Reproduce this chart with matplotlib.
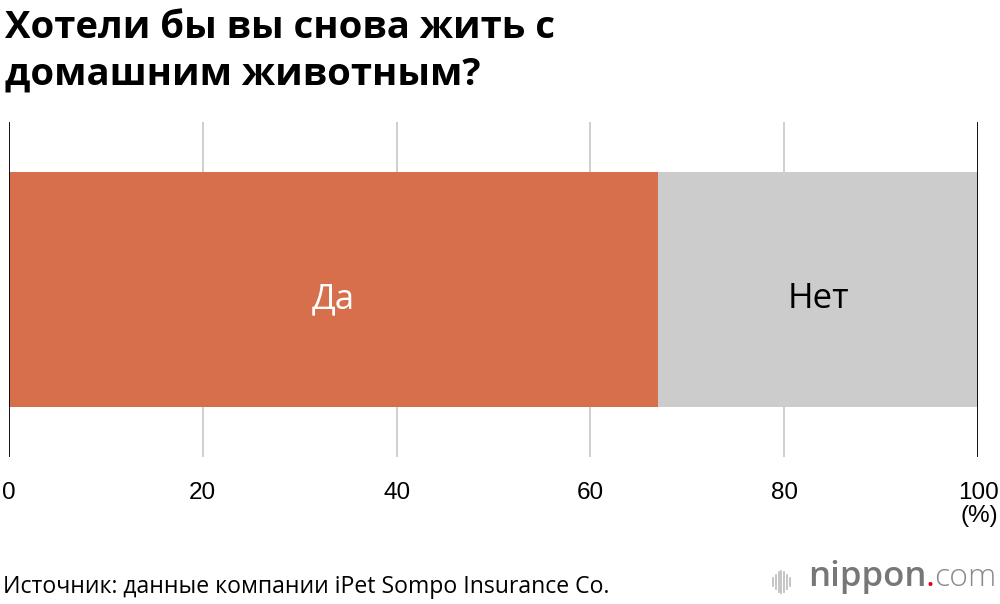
import matplotlib
matplotlib.use("Agg")
import matplotlib.pyplot as plt
from matplotlib.lines import Line2D

# Data
categories = ["Да", "Нет"]
values = [67, 33]
colors = ["#d86f4c", "#cccccc"]
label_colors = ["white", "black"]
xticks = [0, 20, 40, 60, 80, 100]
title_lines = ["Хотели бы вы снова жить с", "домашним животным?"]
source = "Источник: данные компании iPet Sompo Insurance Co."

plt.rcParams['font.family'] = ['Liberation Sans', 'DejaVu Sans']
W, H = 1000, 604

fig = plt.figure(figsize=(10, 6.04), dpi=100)
ax = fig.add_axes([0.009, 1 - 457/H, 0.969, 335/H])

left = 0
for cat, v, c, lc in zip(categories, values, colors, label_colors):
    ax.barh(0.5, v, left=left, height=0.701, color=c, zorder=2)
    ax.text(left + v/2, (457 - 308)/335, cat, ha='center', va='baseline', fontsize=25,
            color=lc, zorder=3, family=['Open Sans', 'DejaVu Sans'])
    left += v

ax.set_xlim(0, 100)
ax.set_ylim(0, 1)
for x in xticks:
    if x in (0, 100):
        ax.axvline(x, color='black', lw=1.3, zorder=4)
    else:
        ax.axvline(x, color='#cccccc', lw=1.3, zorder=1)

for s in ax.spines.values():
    s.set_visible(False)
ax.set_yticks([])
ax.set_xticks(xticks)
ax.set_xticklabels([str(t) for t in xticks])
ax.tick_params(axis='x', length=0, pad=18, labelsize=17.5)
fig.text(998/W, 1 - 516/H, "(%)", ha='right', va='center', fontsize=17.5)

fig.text(0.005, 1 - 38/H, title_lines[0], ha='left', va='baseline', fontsize=27.5,
         fontweight='bold', family=['Open Sans', 'DejaVu Sans'])
fig.text(0.005, 1 - 85/H, title_lines[1], ha='left', va='baseline', fontsize=27.5,
         fontweight='bold', family=['Open Sans', 'DejaVu Sans'])
fig.text(0.003, 1 - 593/H, source, ha='left', va='baseline', fontsize=16.6,
         family=['Open Sans', 'DejaVu Sans'])

# logo
y0 = 1 - 582/H
for i, h in enumerate([0.014, 0.024, 0.034, 0.038, 0.034, 0.024, 0.014]):
    xx = (773 + i*2.8)/W
    fig.add_artist(Line2D([xx, xx], [y0 - h/2, y0 + h/2], color='#bbbbbb', lw=1.2,
                          transform=fig.transFigure))
fig.text(808/W, 1 - 586/H, "nippon", ha='left', va='baseline', fontsize=25,
         color='#777777', fontweight='semibold', family=['Open Sans'])
fig.text(996/W, 1 - 586/H, "com", ha='right', va='baseline', fontsize=23,
         color='#8a8a8a', fontweight='light', family=['Open Sans'])
fig.text(935/W, 1 - 586/H, ".", ha='right', va='baseline', fontsize=25,
         color='#e60012', family=['Open Sans'])

fig.savefig("out.png", dpi=100)
